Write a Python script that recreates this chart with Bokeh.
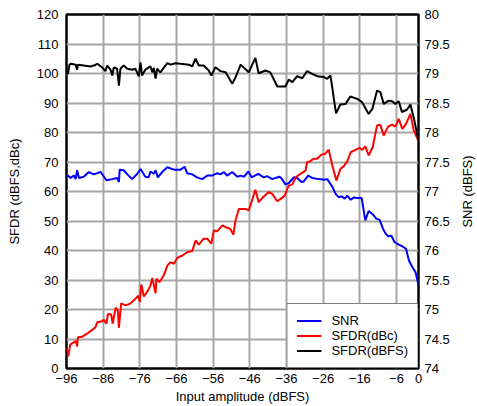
import math
from bokeh.plotting import figure
from bokeh.layouts import row
from bokeh.models import Range1d, LinearAxis, FixedTicker, Legend, LegendItem
from bokeh.core.properties import value
from bokeh.embed import file_html
from bokeh.resources import INLINE

# ---- data ----
x_ticks = [-96, -86, -76, -66, -56, -46, -36, -26, -16, -6, 0]
x_tick_labels = ["\u221296", "\u221286", "\u221276", "\u221266", "\u221256", "\u221246",
                 "\u221236", "\u221226", "\u221216", "\u22126", "0"]
sfdr_ticks = [0, 10, 20, 30, 40, 50, 60, 70, 80, 90, 100, 110, 120]
snr_ticks = [74, 74.5, 75, 75.5, 76, 76.5, 77, 77.5, 78, 78.5, 79, 79.5, 80]
snr_tick_labels = ["74", "74.5", "75", "75.5", "76", "76.5", "77", "77.5", "78", "78.5", "79", "79.5", "80"]

dbfs_x = [-96, -95.6, -95.2, -94.7, -93.5, -93.1, -92.9, -91.3, -89.5, -88.1, -87.6, -86.3, -85.4,
          -84.9, -84.0, -83.5, -83.1, -82.2, -81.7, -81.3, -80.4, -79.4, -78.1, -77.2, -76.3, -75.8,
          -75.4, -74.5, -73.1, -72.6, -72.2, -71.7, -71.3, -70.4, -68.5, -67.6, -66.3, -64.9, -62.6,
          -61.7, -60.8, -59.9, -58.6, -57.2, -56.5, -55.4, -54.0, -52.6, -50.8, -49.9, -48.5, -46.3,
          -44.5, -43.6, -41.7, -40.4, -38.5, -36.3, -35.4, -34.4, -33.1, -31.7, -30.4, -29.0, -27.6,
          -25.8, -24.9, -24.0, -22.5, -21.3, -19.9, -18.6, -16.7, -15.4, -13.6, -12.6, -11.3, -10.4,
          -9.5, -8.1, -7.2, -6.3, -5.4, -4.5, -3.1, -2.2, -1.3, 0]
dbfs_y = [101.5, 99.8, 103.0, 103.3, 103.0, 101.3, 103.0, 102.7, 102.4, 102.9, 103.3, 102.1, 100.8,
          102.7, 101.3, 99.3, 102.1, 101.6, 95.9, 101.6, 102.7, 101.6, 101.3, 101.6, 99.0, 103.8,
          99.3, 101.3, 102.4, 100.4, 101.9, 98.3, 101.6, 100.4, 103.5, 103.0, 103.5, 103.3, 103.0,
          102.4, 105.0, 102.7, 102.7, 101.0, 99.3, 102.1, 100.8, 100.4, 96.5, 98.7, 103.0, 100.4,
          105.3, 100.1, 101.0, 100.4, 95.6, 95.6, 97.9, 97.1, 99.1, 98.4, 100.8, 99.9, 99.1,
          98.8, 98.2, 99.3, 86.5, 89.5, 89.7, 92.2, 91.4, 90.3, 86.3, 88.0, 94.2, 93.7,
          89.7, 90.8, 90.6, 89.7, 90.6, 86.9, 87.8, 89.5, 85.0, 77.3]

dbc_x = [-96, -95.5, -95.0, -93.5, -93.1, -92.9, -91.7, -90.4, -89.0, -88.1, -87.6, -86.3, -85.8,
         -85.1, -84.7, -83.8, -83.4, -82.6, -82.0, -81.7, -81.1, -79.9, -78.5, -77.5, -76.4, -76.0,
         -75.6, -74.9, -73.8, -73.1, -72.6, -71.7, -71.5, -70.6, -69.5, -68.5, -67.6, -66.7, -65.8,
         -64.4, -63.1, -61.7, -60.8, -59.9, -58.6, -57.6, -56.5, -55.8, -54.9, -53.5, -52.2, -51.3,
         -50.5, -49.9, -49.0, -47.2, -46.3, -45.4, -44.5, -43.6, -42.2, -40.8, -39.9, -38.5, -37.6,
         -36.5, -35.4, -34.4, -33.5, -32.2, -30.8, -30.4, -29.5, -28.6, -27.6, -26.5, -25.4, -24.5,
         -23.5, -22.4, -21.3, -20.4, -19.4, -18.5, -17.2, -16.1, -15.4, -14.5, -13.6, -12.5, -11.3,
         -10.4, -9.5, -8.3, -7.2, -6.3, -5.4, -4.4, -3.4, -2.2, -1.3, 0]
dbc_y = [7.0, 4.1, 8.1, 9.3, 7.5, 10.6, 10.8, 11.8, 13.1, 14.0, 15.7, 16.0, 16.5,
         15.2, 18.5, 18.3, 15.2, 20.6, 19.7, 13.8, 22.1, 21.4, 22.1, 23.3, 24.7, 22.5,
         28.5, 24.4, 26.4, 28.1, 30.7, 25.5, 30.4, 29.3, 31.5, 34.9, 36.0, 35.5, 37.5,
         38.3, 39.4, 39.8, 43.4, 42.0, 44.0, 44.0, 42.3, 46.8, 46.5, 48.5, 47.7, 47.3,
         45.4, 50.2, 54.1, 54.1, 53.6, 56.9, 60.6, 56.4, 58.3, 59.8, 59.2, 56.7, 57.5,
         58.6, 62.0, 62.4, 64.8, 66.0, 67.1, 69.9, 70.3, 71.1, 71.1, 72.5, 72.8, 74.2,
         68.8, 63.7, 67.7, 68.5, 70.3, 73.3, 74.1, 74.8, 74.1, 75.3, 72.2, 75.0, 82.4,
         82.6, 79.0, 82.0, 82.7, 82.0, 84.6, 81.2, 82.9, 86.3, 80.7, 77.1]

snr_x = [-96, -95.6, -94.9, -94.0, -93.5, -93.1, -92.6, -91.3, -89.9, -88.6, -86.7, -85.1, -83.5,
         -82.2, -81.7, -81.5, -80.4, -79.4, -78.1, -76.7, -75.8, -74.5, -73.6, -73.1, -72.2, -71.7,
         -71.1, -69.9, -68.5, -66.7, -64.9, -63.8, -63.1, -61.7, -60.4, -59.0, -57.6, -56.3, -54.9,
         -54.0, -53.1, -52.2, -50.8, -49.4, -48.5, -47.6, -46.4, -45.5, -43.7, -42.2, -41.3, -39.9,
         -39.0, -37.9, -37.2, -36.3, -35.4, -34.0, -33.1, -31.9, -31.3, -30.1, -29.0, -27.2, -25.8,
         -24.9, -23.5, -22.6, -21.7, -21.0, -20.1, -19.4, -18.5, -17.6, -16.7, -15.5, -14.5, -13.6,
         -12.6, -11.5, -10.6, -9.7, -9.0, -8.3, -7.4, -6.5, -5.4, -4.4, -3.4, -2.6, -1.7, -0.8, 0]
snr_y = [77.25, 77.27, 77.23, 77.27, 77.21, 77.36, 77.23, 77.25, 77.33, 77.29, 77.33, 77.19, 77.21,
         77.23, 77.16, 77.37, 77.36, 77.29, 77.21, 77.30, 77.38, 77.25, 77.24, 77.34, 77.30, 77.36,
         77.24, 77.33, 77.41, 77.37, 77.37, 77.42, 77.31, 77.29, 77.24, 77.21, 77.27, 77.27, 77.31,
         77.29, 77.33, 77.27, 77.33, 77.25, 77.27, 77.25, 77.34, 77.24, 77.30, 77.24, 77.26, 77.21,
         77.23, 77.25, 77.21, 77.12, 77.14, 77.24, 77.23, 77.16, 77.17, 77.27, 77.23, 77.21, 77.20,
         77.21, 77.08, 76.96, 76.90, 76.92, 76.88, 76.93, 76.86, 76.90, 76.89, 76.89, 76.51, 76.67,
         76.62, 76.54, 76.52, 76.37, 76.29, 76.24, 76.25, 76.14, 76.10, 76.07, 76.03, 75.83, 75.72,
         75.63, 75.41]

snr_title = ["SNR (dBFS)"]

FONT = "Liberation Sans"
FS = "13px"

p = figure(frame_width=352, frame_height=354, output_backend="svg", toolbar_location=None,
           x_range=Range1d(-96, 0), y_range=Range1d(0, 120),
           min_border_left=66, min_border_right=38, min_border_top=14, min_border_bottom=37)
p.extra_y_ranges = {"snr": Range1d(74, 80)}

p.background_fill_color = "white"
p.border_fill_color = "white"
p.outline_line_color = "black"
p.outline_line_width = 2.5

p.xaxis.ticker = FixedTicker(ticks=x_ticks)
p.xaxis.major_label_overrides = {t: l for t, l in zip(x_ticks, x_tick_labels)}
p.xaxis.axis_label = "Input amplitude (dBFS)"
p.yaxis.ticker = FixedTicker(ticks=sfdr_ticks)
p.yaxis.axis_label = "SFDR (dBFS,dBc)"

r_axis = LinearAxis(y_range_name="snr", ticker=FixedTicker(ticks=snr_ticks))
r_axis.major_label_overrides = {t: l for t, l in zip(snr_ticks, snr_tick_labels)}
p.add_layout(r_axis, "right")

for ax in p.axis:
    ax.axis_line_color = None
    ax.major_tick_line_color = None
    ax.minor_tick_line_color = None
    ax.major_tick_out = 0
    ax.major_tick_in = 0
    ax.major_label_text_font = FONT
    ax.major_label_text_font_size = FS
    ax.major_label_text_color = "black"
    ax.axis_label_text_font = FONT
    ax.axis_label_text_font_size = FS
    ax.axis_label_text_font_style = "normal"
    ax.axis_label_text_color = "black"

p.xaxis.major_label_standoff = 5
p.xaxis.axis_label_standoff = 3
p.yaxis.major_label_standoff = 8
p.yaxis.axis_label_standoff = 12
r_axis.major_label_standoff = 6

p.xgrid.ticker = FixedTicker(ticks=x_ticks)
p.ygrid.ticker = FixedTicker(ticks=sfdr_ticks)
for g in (p.xgrid, p.ygrid):
    g.grid_line_color = "#a6a6a6"
    g.grid_line_width = 2

r_snr = p.line(snr_x, snr_y, y_range_name="snr", line_color="#0000ff", line_width=2)
r_dbc = p.line(dbc_x, dbc_y, line_color="#ff0000", line_width=2)
r_dbfs = p.line(dbfs_x, dbfs_y, line_color="black", line_width=2)

legend = Legend(items=[LegendItem(label="SNR", renderers=[r_snr]),
                       LegendItem(label="SFDR(dBc)", renderers=[r_dbc]),
                       LegendItem(label="SFDR(dBFS)", renderers=[r_dbfs])],
                location="bottom_right", margin=0, padding=9, spacing=0,
                label_height=15, glyph_height=15, glyph_width=25, label_standoff=10,
                border_line_color="black", border_line_width=1.5,
                background_fill_color="white", background_fill_alpha=1,
                label_text_font=FONT, label_text_font_size=FS, label_text_color="black")
p.add_layout(legend)

# narrow strip to the right carrying the SNR axis title (reads bottom to top)
p2 = figure(frame_width=21, frame_height=354, output_backend="svg", toolbar_location=None,
            x_range=Range1d(0, 1), y_range=Range1d(74, 80),
            min_border_left=0, min_border_right=0, min_border_top=14, min_border_bottom=37)
p2.axis.visible = False
p2.grid.visible = False
p2.outline_line_color = None
p2.background_fill_color = "white"
p2.border_fill_color = "white"
p2.text(x=[0.5], y=[77], text=snr_title, angle=math.pi / 2,
        text_align="center", text_baseline="middle",
        text_font=value(FONT), text_font_size=value(FS), text_color="black")

layout = row(p, p2, spacing=0)

open("out.html", "w").write(file_html(layout, INLINE))
